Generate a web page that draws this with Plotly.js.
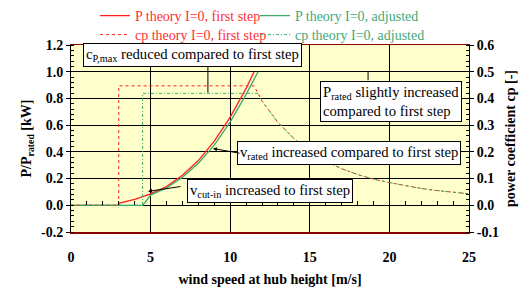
<!DOCTYPE html>
<html><head><meta charset="utf-8">
<script src="https://cdn.plot.ly/plotly-3.0.1.min.js"></script>
<style>html,body{margin:0;padding:0;background:#fff}#chart{width:528px;height:291px}</style>
</head><body><div id="chart"></div>
<script>
// ---- data ----
const windP1 = [0, 3, 3, 4, 5, 6, 7, 8, 9, 10, 11, 11.5];
const powerP1 = [0, 0, 0.015, 0.045, 0.085, 0.14, 0.225, 0.335, 0.48, 0.66, 0.875, 1.0];

const windP2 = [0, 4.5, 5, 6, 7, 8, 9, 10, 11, 11.75];
const powerP2 = [0, 0, 0.075, 0.13, 0.21, 0.315, 0.45, 0.625, 0.83, 1.0];

const windCp1 = [0, 3, 3, 11.5, 12, 13, 14, 15, 16, 17, 18, 19, 20, 21, 22, 23, 24, 25];
const cp1 = [0, 0, 0.447, 0.447, 0.39, 0.31, 0.25, 0.2, 0.165, 0.137, 0.115, 0.098, 0.085, 0.073, 0.063, 0.055, 0.049, 0.043];

const windCp2 = [0, 4.5, 4.5, 11.75, 12, 13, 14, 15, 16, 17, 18, 19, 20, 21, 22, 23, 24, 25];
const cp2 = [0, 0, 0.419, 0.419, 0.39, 0.31, 0.25, 0.2, 0.165, 0.137, 0.115, 0.098, 0.085, 0.073, 0.063, 0.055, 0.049, 0.043];

const xTicks = [0, 5, 10, 15, 20, 25];
const yLeftTicks = [-0.2, 0, 0.2, 0.4, 0.6, 0.8, 1.0, 1.2];
const yLeftLabels = ['-0.2', '0.0', '0.2', '0.4', '0.6', '0.8', '1.0', '1.2'];
const yRightTicks = [-0.1, 0, 0.1, 0.2, 0.3, 0.4, 0.5, 0.6];
const yRightLabels = ['-0.1', '0.0', '0.1', '0.2', '0.3', '0.4', '0.5', '0.6'];

const RED = '#ff2020', GREEN = '#3aaa6e';
const SERIF = 'Liberation Serif';

const traces = [
  {x: windP1, y: powerP1, mode: 'lines', line: {color: RED, width: 1.3},
   name: '<span style="color:#ff3030">P theory I=0, first step</span>', legend: 'legend', hoverinfo: 'skip'},
  {x: windP2, y: powerP2, mode: 'lines', line: {color: GREEN, width: 1.3},
   name: '<span style="color:#45a878">P theory I=0, adjusted</span>', legend: 'legend2', hoverinfo: 'skip'},
  {x: windCp1, y: cp1, yaxis: 'y2', mode: 'lines', line: {color: RED, width: 1, dash: 'dot'},
   name: '<span style="color:#ff3030">cp theory I=0, first step</span>', legend: 'legend3', hoverinfo: 'skip'},
  {x: windCp2, y: cp2, yaxis: 'y2', mode: 'lines', line: {color: GREEN, width: 1, dash: '3px,2px,1px,2px'},
   name: '<span style="color:#45a878">cp theory I=0, adjusted</span>', legend: 'legend4', hoverinfo: 'skip'},
  {x: [0, 25], y: [0, 0], xaxis: 'x2', mode: 'lines', line: {width: 0}, opacity: 0, showlegend: false, hoverinfo: 'skip'}
];

const boxFont = {family: SERIF, size: 14.7, color: '#000'};
function box(text, x, y, align) {
  return {x: x, y: y, xref: 'x', yref: 'y', text: text, showarrow: false, font: boxFont,
    bgcolor: '#ffffff', bordercolor: '#000', borderwidth: 1, borderpad: 2, align: align || 'center'};
}
function arrow(x, y, ax, ay, head) {
  return {x: x, y: y, ax: ax, ay: ay, xref: 'x', yref: 'y', axref: 'x', ayref: 'y', text: '',
    showarrow: true, arrowhead: head, arrowsize: 0.8, arrowwidth: 1, arrowcolor: '#000'};
}
const boldFont = {family: SERIF, size: 14, weight: 'bold', color: '#000'};
function leg(x, y, anchor) {
  return {orientation: 'h', x: x, xanchor: 'left', xref: 'container', y: y, yref: 'container', yanchor: anchor,
    bgcolor: 'rgba(0,0,0,0)', font: {family: SERIF, size: 14}, itemwidth: 30, tracegroupgap: 0, borderwidth: 0};
}

const layout = {
  width: 528, height: 291,
  margin: {l: 71, r: 59, t: 45, b: 59, autoexpand: false},
  paper_bgcolor: '#ffffff', plot_bgcolor: '#ffffcc',
  font: {family: SERIF, size: 14, color: '#000'},
  xaxis: {range: [0, 25], tickvals: xTicks, ticktext: xTicks.map(String), showgrid: true, gridcolor: '#000', gridwidth: 1,
    showline: true, linecolor: '#8b0000', linewidth: 1.5, mirror: true, ticks: '', zeroline: false,
    tickfont: boldFont, ticklabelstandoff: 12,
    title: {text: 'wind speed at hub height [m/s]', font: boldFont, standoff: 10}},
  xaxis2: {overlaying: 'x', range: [0, 25], anchor: 'free', position: 1 / 7, side: 'bottom',
    ticks: 'inside', dtick: 1, tick0: 0, ticklen: 4, tickcolor: '#000', showticklabels: false,
    showgrid: false, showline: false, zeroline: false},
  yaxis: {range: [-0.2, 1.2], tickvals: yLeftTicks, ticktext: yLeftLabels, showgrid: true, gridcolor: '#000', gridwidth: 1,
    showline: true, linecolor: '#000', linewidth: 1, ticks: 'outside', ticklen: 4, tickcolor: '#000',
    minor: {ticks: 'inside', dtick: 0.04, tick0: 0, ticklen: 3, tickcolor: '#000', showgrid: false},
    zeroline: true, zerolinecolor: '#000', zerolinewidth: 1,
    tickfont: boldFont,
    title: {text: 'P/P<sub>rated</sub> [kW]', font: boldFont, standoff: 6}},
  yaxis2: {overlaying: 'y', side: 'right', range: [-0.1, 0.6], tickvals: yRightTicks, ticktext: yRightLabels,
    showgrid: false, zeroline: false, showline: true, linecolor: '#000', linewidth: 1,
    ticks: 'outside', ticklen: 4, tickcolor: '#000',
    minor: {ticks: 'inside', dtick: 0.02, tick0: 0, ticklen: 3, tickcolor: '#000', showgrid: false},
    tickfont: boldFont,
    title: {text: 'power coefficient cp [-]', font: boldFont, standoff: 7}},
  legend: leg(95 / 528, 1.0, 'top'),
  legend2: leg(255 / 528, 1.0, 'top'),
  legend3: leg(95 / 528, 1 - 19 / 291, 'top'),
  legend4: leg(255 / 528, 1 - 19 / 291, 'top'),
  annotations: [
    box('c<sub>P,max</sub> reduced compared to first step', 7.63, 1.127),
    arrow(8.6, 0.845, 8.6, 1.05, 0),
    box('P<sub>rated</sub> slightly increased<br>compared to first step', 20.07, 0.78, 'left'),
    arrow(18.66, 1.0, 18.66, 0.925, 0),
    box('v<sub>rated</sub> increased compared to first step', 17.49, 0.388),
    arrow(8.92, 0.425, 10.68, 0.388, 2),
    box('v<sub>cut-in</sub> increased to first step', 12.53, 0.108),
    arrow(4.84, 0.104, 6.97, 0.142, 2)
  ]
};

Plotly.newPlot('chart', traces, layout, {staticPlot: true, displayModeBar: false});
</script></body></html>
